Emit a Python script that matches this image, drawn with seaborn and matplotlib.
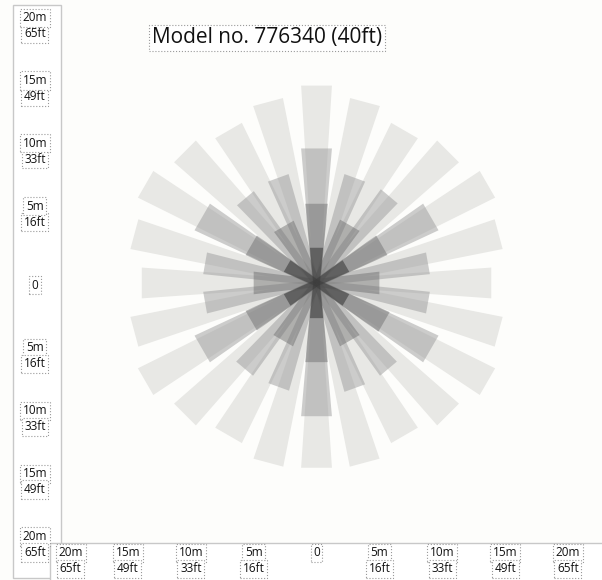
import numpy as np
import pandas as pd
import matplotlib.pyplot as plt
import seaborn as sns
from matplotlib.patches import Rectangle

# detection zones, one list per lens ring: direction (deg), reach (m)
outer_angles = list(range(0, 360, 15))
outer_reach = [13.9, 15.0, 15.7, 14.8, 14.0, 14.9, 15.7, 14.9, 14.0, 14.8, 15.7, 15.0,
               13.9, 15.0, 15.7, 14.8, 14.0, 14.8, 14.7, 14.8, 14.0, 14.8, 15.7, 15.0]
mid_angles = [30, 90, 150, 210, 270, 330]
mid_reach = [10.5, 10.7, 10.5, 10.5, 10.6, 10.5]
side_angles = [10, 50, 70, 110, 130, 170, 190, 230, 250, 290, 310, 350]
side_reach = [9.0, 9.0, 8.9, 8.9, 8.8, 9.0, 9.0, 8.9, 8.8, 8.9, 8.9, 9.0]
inner_angles = list(range(0, 360, 30))
inner_reach = [5.0, 6.0, 5.3, 6.3, 5.2, 6.0, 5.0, 6.0, 5.3, 6.3, 5.3, 6.2]
core_angles = [30, 90, 150, 210, 270, 330]
core_reach = [2.7, 2.8, 2.7, 2.7, 2.8, 2.7]

# axis ticks (metres / feet)
tick_m = [20, 15, 10, 5]
tick_ft = [65, 49, 33, 16]
title = "Model no. 776340 (40ft)"

# ring styles: end width (m), taper, colour, alpha
rings = pd.DataFrame([
    dict(name="outer", width=2.45, taper=0.2, color="#e8e8e5", alpha=1.0),
    dict(name="mid", width=2.45, taper=0.25, color="#9c9c9c", alpha=0.5),
    dict(name="side", width=1.75, taper=0.25, color="#9c9c9c", alpha=0.5),
    dict(name="inner", width=1.8, taper=0.35, color="#6a6a6a", alpha=0.45),
    dict(name="core", width=1.05, taper=0.5, color="#3c3c3c", alpha=0.6),
]).set_index("name")
zones = {
    "outer": (outer_angles, outer_reach),
    "mid": (mid_angles, mid_reach),
    "side": (side_angles, side_reach),
    "inner": (inner_angles, inner_reach),
    "core": (core_angles, core_reach),
}

sns.set_theme(style="white")
plt.rcParams["font.family"] = ["Open Sans", "DejaVu Sans"]

bg = "#fdfdfb"
fig = plt.figure(figsize=(6.02, 5.8), dpi=100, facecolor=bg)
ax = fig.add_axes([0, 0, 1, 1])
ax.set_facecolor(bg)
ax.set_xlim(-25.18, 22.71)
ax.set_ylim(-23.63, 22.51)
ax.axis("off")

# frames of the two axes strips
fig.add_artist(Rectangle((13 / 602, 2 / 580), 48 / 602, 573 / 580, transform=fig.transFigure,
                         fc="white", ec="#c8c8c8", lw=1, zorder=0))
fig.add_artist(Rectangle((50 / 602, -0.02), 0.95, 37 / 580 + 0.02, transform=fig.transFigure,
                         fc="white", ec="#c8c8c8", lw=1, zorder=0))


def zone(ax, angle, reach, width, taper, **kw):
    t = np.deg2rad(angle)
    u = np.array([np.cos(t), np.sin(t)])
    n = np.array([-np.sin(t), np.cos(t)])
    h0 = width * taper / 2
    h1 = width / 2
    pts = np.array([h0 * n, reach * u + h1 * n, reach * u - h1 * n, -h0 * n])
    ax.fill(pts[:, 0], pts[:, 1], lw=0, **kw)


for name, (angles, reach) in zones.items():
    st = rings.loc[name]
    for a, r in zip(angles, reach):
        zone(ax, a, r, st.width, st.taper, color=st.color, alpha=st.alpha, zorder=2)

box = dict(boxstyle="square,pad=0.22", fc="white", ec="#9a9a9a", ls=":", lw=0.8)
lab = dict(fontsize=8.5, color="#111111", ha="center", va="center", bbox=box,
           textcoords="offset points", zorder=5)

# left column
for m, ft in zip(tick_m, tick_ft):
    ax.annotate(f"{ft}ft", (0.058, m), xycoords=("axes fraction", "data"), xytext=(0, -1.5), **lab)
    ax.annotate(f"{m}m", (0.058, m), xycoords=("axes fraction", "data"), xytext=(0, 10), **lab)
    ax.annotate(f"{m}m", (0.058, -m), xycoords=("axes fraction", "data"), xytext=(0, -1.5), **lab)
    ax.annotate(f"{ft}ft", (0.058, -m), xycoords=("axes fraction", "data"), xytext=(0, -13), **lab)
ax.annotate("0", (0.058, 0), xycoords=("axes fraction", "data"), xytext=(0, -1.5), **lab)

# bottom row
for m, ft in zip(tick_m, tick_ft):
    for x in (-m, m):
        dx = 4 if x == -20 else 0
        ax.annotate(f"{m}m", (x, 0.0466), xycoords=("data", "axes fraction"), xytext=(dx, 0), **lab)
        ax.annotate(f"{ft}ft", (x, 0.019), xycoords=("data", "axes fraction"), xytext=(dx, 0), **lab)
ax.annotate("0", (0, 0.0466), xycoords=("data", "axes fraction"), xytext=(0, 0), **lab)

ax.text(0.4435, 0.9345, title, transform=ax.transAxes, fontsize=15, color="#111111",
        ha="center", va="center", zorder=5,
        bbox=dict(boxstyle="square,pad=0.12", fc="white", ec="#9a9a9a", ls=":", lw=0.8))

fig.savefig("out.png", dpi=100, facecolor=bg)
